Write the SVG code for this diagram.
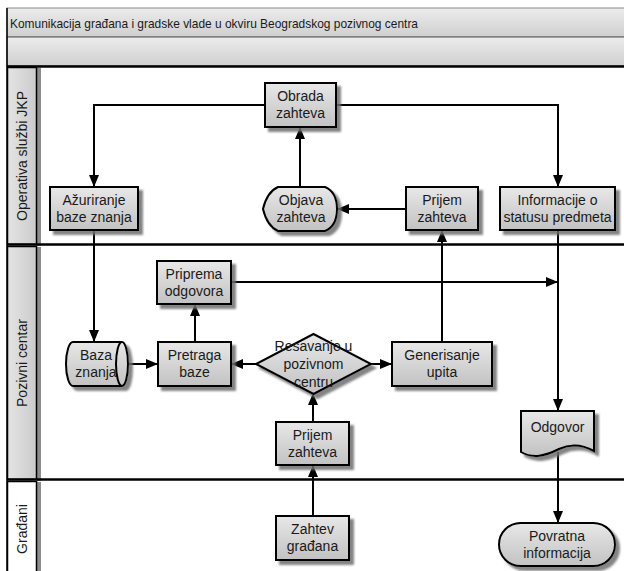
<svg xmlns="http://www.w3.org/2000/svg" width="624" height="571" viewBox="0 0 624 571">
  <style>
    text { font-family: "Liberation Sans", Arial, sans-serif; fill: #1a1a1a; }
    .lbl { font-size: 14px; text-anchor: middle; }
    .shape { fill: url(#nodeFill); stroke: #000; stroke-width: 2; }
    .lane { fill: url(#laneFill); stroke: #000; stroke-width: 1.5; }
    .conn { fill: none; stroke: #000; stroke-width: 2; }
    .sep { stroke: #000; stroke-width: 2.5; }
  </style>
  <defs>
    <linearGradient id="nodeFill" x1="0" y1="0" x2="0" y2="1">
      <stop offset="0" stop-color="#e8e8e8"/>
      <stop offset="1" stop-color="#c2c2c2"/>
    </linearGradient>
    <linearGradient id="laneFill" x1="0" y1="0" x2="1" y2="0">
      <stop offset="0" stop-color="#e4e4e4"/>
      <stop offset="1" stop-color="#cbcbcb"/>
    </linearGradient>
    <linearGradient id="barFill" x1="0" y1="0" x2="0" y2="1">
      <stop offset="0" stop-color="#ececec"/>
      <stop offset="1" stop-color="#cfcfcf"/>
    </linearGradient>
    <filter id="shadow" x="-20%" y="-20%" width="150%" height="150%">
      <feDropShadow dx="4" dy="4" stdDeviation="1" flood-color="#6e6e6e" flood-opacity="0.85"/>
    </filter>
    <marker id="arrow" markerUnits="userSpaceOnUse" markerWidth="12" markerHeight="10" refX="11" refY="5" orient="auto">
      <path d="M0,0 L12,5 L0,10 Z" fill="#000"/>
    </marker>
  </defs>

  <rect width="624" height="571" fill="#fff"/>

  <!-- pool header -->
  <g id="pool-header">
    <rect x="7" y="8" width="620" height="29" fill="url(#barFill)" stroke="#8a8a8a" stroke-width="1"/>
    <text x="10" y="28" font-size="13.5" textLength="408" lengthAdjust="spacingAndGlyphs">Komunikacija građana i gradske vlade u okviru Beogradskog pozivnog centra</text>
    <rect x="7" y="37" width="620" height="29" fill="url(#barFill)" stroke="#555" stroke-width="1"/>
    <line x1="7" y1="66.5" x2="624" y2="66.5" class="sep"/>
    <line x1="7" y1="8" x2="7" y2="571" stroke="#000" stroke-width="1.5"/>
  </g>

  <!-- swimlanes -->
  <g id="lane-jkp">
    <rect x="37" y="68" width="4" height="178" fill="#8c8c8c"/>
    <rect x="7.5" y="67.5" width="29" height="177" class="lane"/>
    <text class="lbl" transform="translate(27,156) rotate(-90)">Operativa službi JKP</text>
  </g>
  <g id="lane-centar">
    <rect x="37" y="247" width="4" height="234" fill="#8c8c8c"/>
    <rect x="7.5" y="246.5" width="29" height="233" class="lane"/>
    <text class="lbl" transform="translate(27,363) rotate(-90)">Pozivni centar</text>
  </g>
  <g id="lane-gradjani">
    <rect x="37" y="482" width="4" height="92" fill="#8c8c8c"/>
    <rect x="7.5" y="481.5" width="29" height="95" fill="#fff" stroke="#000" stroke-width="1.5"/>
    <text class="lbl" transform="translate(27,529) rotate(-90)">Građani</text>
  </g>
  <line x1="7" y1="244.5" x2="624" y2="244.5" class="sep"/>
  <line x1="7" y1="479.5" x2="624" y2="479.5" class="sep"/>

  <!-- connectors -->
  <g id="connectors">
    <path class="conn" d="M265,105 H94 V186" marker-end="url(#arrow)"/>
    <path class="conn" d="M336,105 H558 V186" marker-end="url(#arrow)"/>
    <path class="conn" d="M300,187 V128" marker-end="url(#arrow)"/>
    <path class="conn" d="M406,209 H338" marker-end="url(#arrow)"/>
    <path class="conn" d="M94,230 V341" marker-end="url(#arrow)"/>
    <path class="conn" d="M122,364 H157" marker-end="url(#arrow)"/>
    <path class="conn" d="M195,342 V305" marker-end="url(#arrow)"/>
    <path class="conn" d="M256,364 H232" marker-end="url(#arrow)"/>
    <path class="conn" d="M371,364 H391" marker-end="url(#arrow)"/>
    <path class="conn" d="M442,342 V231" marker-end="url(#arrow)"/>
    <path class="conn" d="M231,282 H557" marker-end="url(#arrow)"/>
    <path class="conn" d="M558,230 V410" marker-end="url(#arrow)"/>
    <path class="conn" d="M313,422 V394" marker-end="url(#arrow)"/>
    <path class="conn" d="M313,516 V466" marker-end="url(#arrow)"/>
    <path class="conn" d="M558,452 V522" marker-end="url(#arrow)"/>
  </g>

  <!-- nodes -->
  <g id="obrada-zahteva">
    <rect x="265" y="83" width="71" height="44" class="shape" filter="url(#shadow)"/>
    <text class="lbl" x="300.5" y="101">Obrada</text>
    <text class="lbl" x="300.5" y="118">zahteva</text>
  </g>
  <g id="azuriranje-baze">
    <rect x="50" y="187" width="88" height="43" class="shape" filter="url(#shadow)"/>
    <text class="lbl" x="94" y="205">Ažuriranje</text>
    <text class="lbl" x="94" y="222">baze znanja</text>
  </g>
  <g id="objava-zahteva">
    <path d="M263,209 Q267,192 278,187 H325 Q337,192 337,209 Q337,226 325,231 H278 Q267,226 263,209 Z" class="shape" filter="url(#shadow)"/>
    <text class="lbl" x="301" y="205">Objava</text>
    <text class="lbl" x="301" y="222">zahteva</text>
  </g>
  <g id="prijem-zahteva-jkp">
    <rect x="406" y="187" width="72" height="43" class="shape" filter="url(#shadow)"/>
    <text class="lbl" x="442" y="205">Prijem</text>
    <text class="lbl" x="442" y="222">zahteva</text>
  </g>
  <g id="informacije-status">
    <rect x="500" y="187" width="115" height="43" class="shape" filter="url(#shadow)"/>
    <text class="lbl" x="557.5" y="205">Informacije o</text>
    <text class="lbl" x="557.5" y="222">statusu predmeta</text>
  </g>
  <g id="priprema-odgovora">
    <rect x="157" y="261" width="74" height="43" class="shape" filter="url(#shadow)"/>
    <text class="lbl" x="194" y="279">Priprema</text>
    <text class="lbl" x="194" y="296">odgovora</text>
  </g>
  <g id="baza-znanja">
    <path d="M73,342 H122 A6,22 0 0 1 122,386 H73 A7,22 0 0 1 73,342 Z" class="shape" filter="url(#shadow)"/>
    <path d="M122,342 A6,22 0 0 0 122,386" fill="none" stroke="#000" stroke-width="2"/>
    <text class="lbl" x="96" y="360">Baza</text>
    <text class="lbl" x="96" y="377">znanja</text>
  </g>
  <g id="pretraga-baze">
    <rect x="158" y="342" width="73" height="44" class="shape" filter="url(#shadow)"/>
    <text class="lbl" x="194.5" y="360">Pretraga</text>
    <text class="lbl" x="194.5" y="377">baze</text>
  </g>
  <g id="resavanje">
    <path d="M313.5,334 L371,364 L313.5,394 L256,364 Z" class="shape" filter="url(#shadow)"/>
    <text class="lbl" x="313.5" y="351">Resavanje u</text>
    <text class="lbl" x="313.5" y="369">pozivnom</text>
    <text class="lbl" x="313.5" y="387">centru</text>
  </g>
  <g id="generisanje-upita">
    <rect x="392" y="342" width="100" height="44" class="shape" filter="url(#shadow)"/>
    <text class="lbl" x="442" y="360">Generisanje</text>
    <text class="lbl" x="442" y="377">upita</text>
  </g>
  <g id="prijem-zahteva-centar">
    <rect x="276" y="422" width="73" height="43" class="shape" filter="url(#shadow)"/>
    <text class="lbl" x="312.5" y="440">Prijem</text>
    <text class="lbl" x="312.5" y="457">zahteva</text>
  </g>
  <g id="odgovor">
    <path d="M521,411 H594 V451 C583,445 572,443 559,449 C545,456 533,459 521,452 Z" class="shape" filter="url(#shadow)"/>
    <text class="lbl" x="557.5" y="432">Odgovor</text>
  </g>
  <g id="zahtev-gradjana">
    <rect x="276" y="516" width="73" height="44" class="shape" filter="url(#shadow)"/>
    <text class="lbl" x="312.5" y="534">Zahtev</text>
    <text class="lbl" x="312.5" y="551">građana</text>
  </g>
  <g id="povratna-informacija">
    <rect x="499" y="523" width="116" height="43" rx="21.5" ry="21.5" class="shape" filter="url(#shadow)"/>
    <text class="lbl" x="557" y="541">Povratna</text>
    <text class="lbl" x="557" y="558">informacija</text>
  </g>
</svg>
